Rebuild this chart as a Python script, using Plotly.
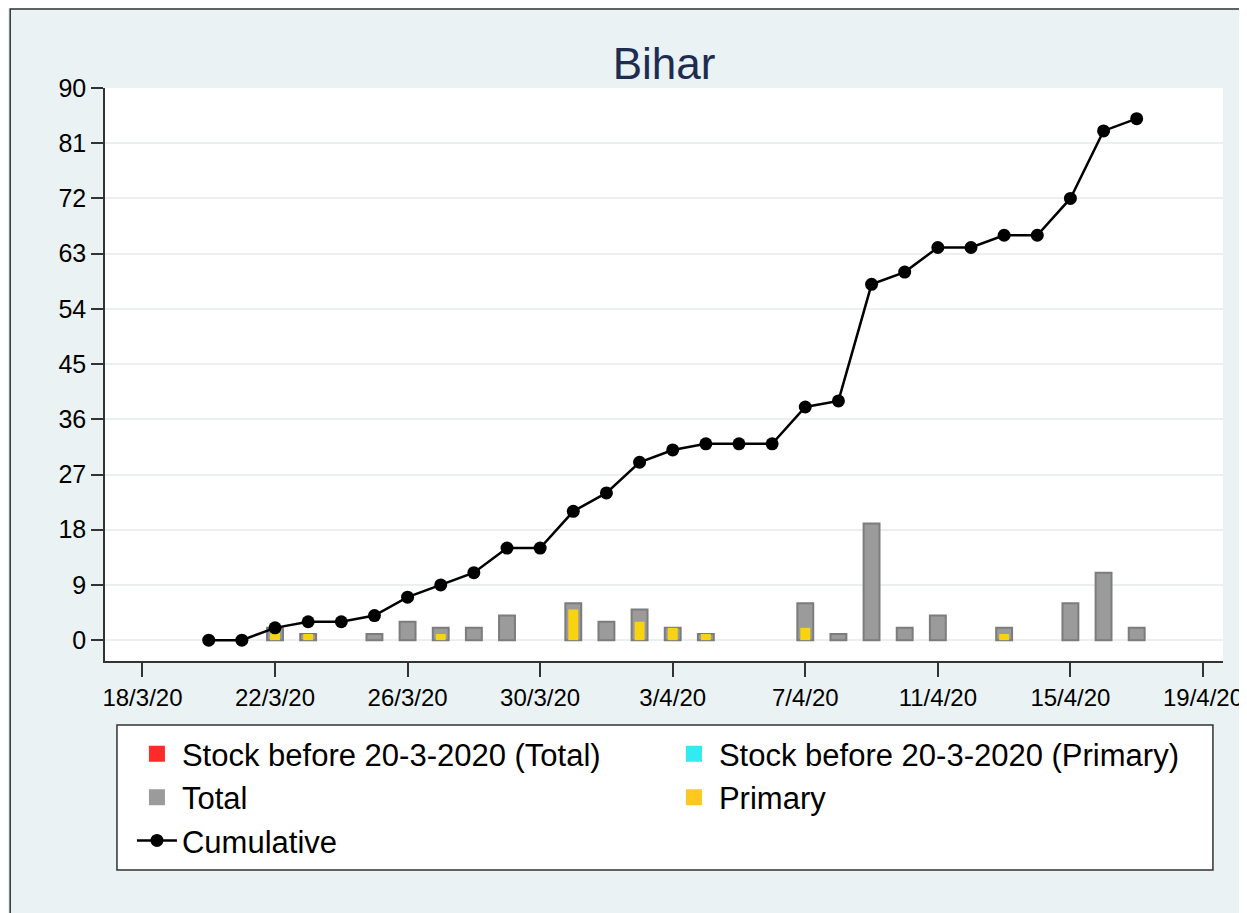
import plotly.graph_objects as go

# ---- data ----
dates = ["2020-03-20", "2020-03-21", "2020-03-22", "2020-03-23", "2020-03-24", "2020-03-25",
         "2020-03-26", "2020-03-27", "2020-03-28", "2020-03-29", "2020-03-30", "2020-03-31",
         "2020-04-01", "2020-04-02", "2020-04-03", "2020-04-04", "2020-04-05", "2020-04-06",
         "2020-04-07", "2020-04-08", "2020-04-09", "2020-04-10", "2020-04-11", "2020-04-12",
         "2020-04-13", "2020-04-14", "2020-04-15", "2020-04-16", "2020-04-17"]
total = [0, 0, 2, 1, 0, 1, 3, 2, 2, 4, 0, 6, 3, 5, 2, 1, 0, 0, 6, 1, 19, 2, 4, 0, 2, 0, 6, 11, 2]
primary = [0, 0, 2, 1, 0, 0, 0, 1, 0, 0, 0, 5, 0, 3, 2, 1, 0, 0, 2, 0, 0, 0, 0, 0, 1, 0, 0, 0, 0]
cumulative = [0, 0, 2, 3, 3, 4, 7, 9, 11, 15, 15, 21, 24, 29, 31, 32, 32, 32, 38, 39, 58, 60, 64,
              64, 66, 66, 72, 83, 85]
stock_dates = ["2020-03-20"]
stock_total = [0]
stock_primary = [0]

tick_dates = ["2020-03-18", "2020-03-22", "2020-03-26", "2020-03-30", "2020-04-03",
              "2020-04-07", "2020-04-11", "2020-04-15", "2020-04-19"]
tick_labels = ["18/3/20", "22/3/20", "26/3/20", "30/3/20", "3/4/20",
               "7/4/20", "11/4/20", "15/4/20", "19/4/20"]
y_ticks = [0, 9, 18, 27, 36, 45, 54, 63, 72, 81, 90]

DAY = 86400000
FONT = "Arial, Liberation Sans, sans-serif"
RED, CYAN, GRAY, GRAY_LINE, YELLOW = "#ff2a2a", "#33eaf0", "#9b9b9b", "#7c7c7c", "#f8d312"


def hide_zero(values):
    return [v if v else None for v in values]


fig = go.Figure()
# bars (legend drawn by the legend-only entries below, which allow larger swatches)
fig.add_trace(go.Bar(x=stock_dates, y=hide_zero(stock_total), showlegend=False,
                     name="Stock before 20-3-2020 (Total)",
                     marker=dict(color=RED, line=dict(width=0)), width=0.5 * DAY))
fig.add_trace(go.Bar(x=stock_dates, y=hide_zero(stock_primary), showlegend=False,
                     name="Stock before 20-3-2020 (Primary)",
                     marker=dict(color=CYAN, line=dict(width=0)), width=0.5 * DAY))
fig.add_trace(go.Bar(x=dates, y=hide_zero(total), name="Total", showlegend=False,
                     marker=dict(color=GRAY, line=dict(color=GRAY_LINE, width=2)),
                     width=0.48 * DAY))
fig.add_trace(go.Bar(x=dates, y=hide_zero(primary), name="Primary", showlegend=False,
                     marker=dict(color=YELLOW, line=dict(width=0)), width=0.3 * DAY))

# legend entries
for nm, col in [("Stock before 20-3-2020 (Total)", RED),
                ("Stock before 20-3-2020 (Primary)", CYAN),
                ("Total", GRAY), ("Primary", "#ffc81e")]:
    fig.add_trace(go.Scatter(x=[None], y=[None], mode="markers", name=nm,
                             marker=dict(symbol="square", size=16, color=col,
                                         line=dict(width=0))))

fig.add_trace(go.Scatter(x=dates, y=cumulative, name="Cumulative", mode="lines+markers",
                         line=dict(color="black", width=2.5),
                         marker=dict(color="black", size=13, symbol="circle")))

fig.update_layout(
    width=1247, height=913,
    margin=dict(l=97, r=30, t=80, b=260),
    paper_bgcolor="#eaf2f3", plot_bgcolor="white",
    barmode="overlay",
    font=dict(family=FONT, color="black", size=24),
    title=dict(text="Bihar", x=0.5, xanchor="center", xref="paper", y=0.939, yanchor="middle",
               font=dict(size=44, color="#1e2d4f", family=FONT)),
    showlegend=True,
    legend=dict(orientation="h", x=0.0241, xanchor="left", y=-0.1155, yanchor="top",
                bgcolor="rgba(0,0,0,0)", borderwidth=0,
                font=dict(size=31, family=FONT), entrywidth=482, itemwidth=40,
                traceorder="normal"),
    shapes=[
        dict(type="rect", xref="paper", yref="paper", x0=0.0107, x1=0.991, y0=-0.3648, y1=-0.1117,
             fillcolor="white", line=dict(color="#333333", width=1.5), layer="below"),
        dict(type="rect", xref="paper", yref="paper", x0=-0.0848, x1=1.1, y0=-0.5, y1=1.1379,
             fillcolor="rgba(0,0,0,0)", line=dict(color="#333333", width=1.5), layer="above"),
    ],
)

fig.update_xaxes(
    type="date", range=["2020-03-16 20:53", "2020-04-19 14:30"],
    tickmode="array", tickvals=tick_dates, ticktext=tick_labels,
    ticks="outside", ticklen=14, tickwidth=1.5, tickcolor="#333333",
    showline=True, linecolor="#333333", linewidth=1.5,
    showgrid=False, zeroline=False, tickfont=dict(size=24, family=FONT),
)
fig.update_yaxes(
    range=[-3.4, 90], tickmode="array", tickvals=y_ticks,
    ticks="outside", ticklen=12, tickwidth=1.5, tickcolor="#333333",
    showline=True, linecolor="#333333", linewidth=1.5,
    showgrid=True, gridcolor="#eaf0f0", gridwidth=1.5, zeroline=False,
    tickfont=dict(size=25, family=FONT),
)

fig.write_html("out.html")
